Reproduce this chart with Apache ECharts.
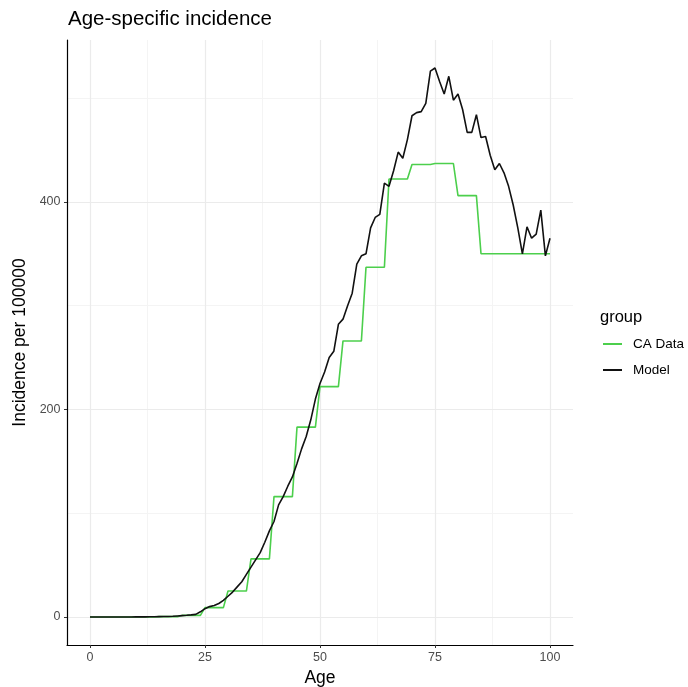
<!DOCTYPE html>
<html>
<head>
<meta charset="utf-8">
<script src="https://cdn.jsdelivr.net/npm/echarts@6/dist/echarts.min.js"></script>
<style>
html,body{margin:0;padding:0;background:#fff;}
#chart{width:688px;height:687px;}
</style>
</head>
<body>
<div id="chart"></div>
<script>
// ---- data ----
const ages = [0,1,2,3,4,5,6,7,8,9,10,11,12,13,14,15,16,17,18,19,20,21,22,23,24,25,26,27,28,29,30,31,32,33,34,35,36,37,38,39,40,41,42,43,44,45,46,47,48,49,50,51,52,53,54,55,56,57,58,59,60,61,62,63,64,65,66,67,68,69,70,71,72,73,74,75,76,77,78,79,80,81,82,83,84,85,86,87,88,89,90,91,92,93,94,95,96,97,98,99,100];
const caData = [0,0,0,0,0,0,0,0,0,0,0,0,0,0,0,0.3,0.3,0.3,0.3,0.3,1.5,1.5,1.5,1.5,1.5,9,9,9,9,9,25,25,25,25,25,56,56,56,56,56,116,116,116,116,116,183,183,183,183,183,222,222,222,222,222,266,266,266,266,266,337,337,337,337,337,422,422,422,422,422,436,436,436,436,436,437,437,437,437,437,406,406,406,406,406,350,350,350,350,350,350,350,350,350,350,350,350,350,350,350,350];
const model = [0,0,0,0,0,0,0,0,0,0,0.1,0.1,0.1,0.2,0.2,0.3,0.4,0.5,0.7,1.0,1.3,1.6,2.0,2.5,5,8,10,11,13,16,20,24,29,34,41,48,55,62,72,83,92,108,116,126,135,148,162,174,190,210,225,236,250,256,282,287,300,312,340,348,350,375,385,388,418,415,430,448,442,460,483,486,487,495,526,529,516,504,521,498,504,489,467,467,484,462,463,445,431,437,428,415,397,375,350,376,365,369,392,348,365];
const seriesNames = ['CA Data','Model'];
const xTicks = [0,25,50,75,100];
const yTicks = [0,200,400];
const xGridMajor = [0,25,50,75,100];
const xGridMinor = [12.5,37.5,62.5,87.5];
const yGridMajor = [0,200,400];
const yGridMinor = [100,300,500];

const FONT = 'Liberation Sans, Arial, sans-serif';
const chart = echarts.init(document.getElementById('chart'), null, {renderer:'canvas'});

const pairs = (vals) => ages.map((a,i)=>[a, vals[i]]);
const gridLines = [].concat(
  xGridMinor.map(v=>({xAxis:v, lineStyle:{color:'#f4f4f4', width:1, type:'solid'}})),
  yGridMinor.map(v=>({yAxis:v, lineStyle:{color:'#f4f4f4', width:1, type:'solid'}})),
  xGridMajor.map(v=>({xAxis:v, lineStyle:{color:'#ebebeb', width:1.2, type:'solid'}})),
  yGridMajor.map(v=>({yAxis:v, lineStyle:{color:'#ebebeb', width:1.2, type:'solid'}}))
);

chart.setOption({
  animation:false,
  backgroundColor:'#fff',
  textStyle:{fontFamily:FONT},
  title:{text:'Age-specific incidence', left:63, top:4,
    textStyle:{fontSize:20.5, fontWeight:'normal', color:'#000', fontFamily:FONT}},
  grid:{left:67, right:115, top:40, bottom:42, containLabel:false, outerBoundsMode:'none'},
  graphic:[{type:'text', left:600, top:309, style:{text:'group', fontSize:16.5, fill:'#000', fontFamily:FONT}}],
  legend:{data:seriesNames, orient:'vertical', left:598, top:331, itemWidth:19, itemHeight:2, icon:'rect', itemGap:10,
    textStyle:{fontSize:13.5, lineHeight:16, color:'#000', fontFamily:FONT, padding:[0,0,0,6]}},
  xAxis:{type:'value', min:-5, max:105, z:6,
    name:'Age', nameLocation:'middle', nameGap:23,
    nameTextStyle:{fontSize:17.5, color:'#000', fontFamily:FONT},
    splitLine:{show:false},
    axisLine:{show:true, onZero:false, lineStyle:{color:'#000', width:1.2}},
    axisTick:{show:true, customValues:xTicks, length:3, lineStyle:{color:'#333'}},
    axisLabel:{customValues:xTicks, color:'#4d4d4d', fontSize:12.5, margin:6.5, fontFamily:FONT}},
  yAxis:{type:'value', min:-27, max:556, z:6,
    name:'Incidence per 100000', nameLocation:'middle', nameGap:26, nameRotate:90,
    nameTextStyle:{fontSize:17.5, color:'#000', fontFamily:FONT},
    splitLine:{show:false},
    axisLine:{show:true, onZero:false, lineStyle:{color:'#000', width:1.2}},
    axisTick:{show:true, customValues:yTicks, length:3, lineStyle:{color:'#333'}},
    axisLabel:{customValues:yTicks, color:'#4d4d4d', fontSize:12.5, margin:6.5, fontFamily:FONT}},
  series:[
    {name:'grid', type:'line', data:[], z:1, silent:true,
      markLine:{silent:true, z:1, symbol:'none', label:{show:false}, emphasis:{disabled:true}, animation:false, data:gridLines}},
    {name:'CA Data', type:'line', data:pairs(caData), showSymbol:false, symbol:'none', z:3,
      lineStyle:{color:'#4ccf4c', width:1.6}, itemStyle:{color:'#4ccf4c'}},
    {name:'Model', type:'line', data:pairs(model), showSymbol:false, symbol:'none', z:4,
      lineStyle:{color:'#111', width:1.6}, itemStyle:{color:'#111'}}
  ]
});
</script>
</body>
</html>
